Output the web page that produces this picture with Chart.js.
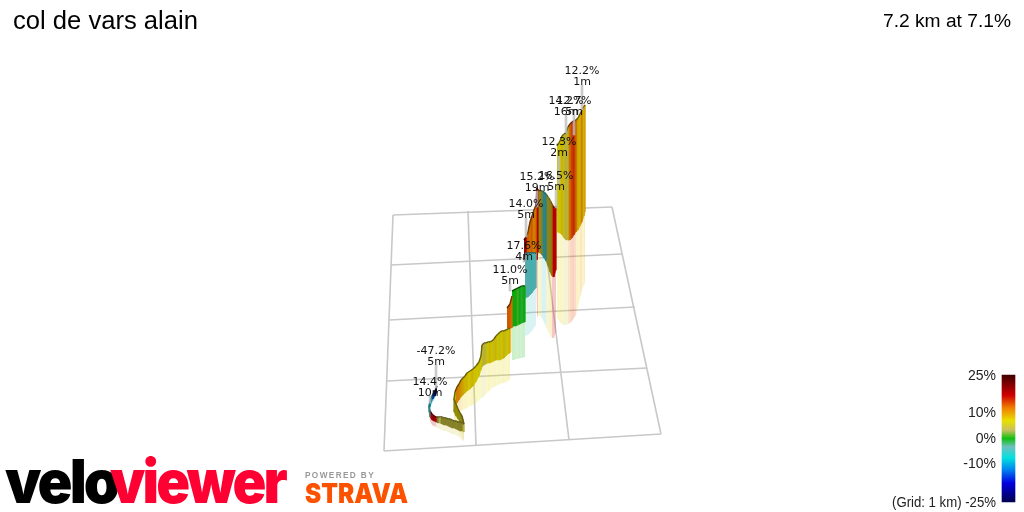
<!DOCTYPE html>
<html>
<head>
<meta charset="utf-8">
<title>col de vars alain</title>
<script src="https://cdn.jsdelivr.net/npm/chart.js"></script>
<style>
	html, body { margin: 0; padding: 0; background: #fff; }
	canvas { display: block; }
</style>
</head>
<body>
<canvas id="chart" width="1024" height="512"></canvas>
<script>
// route samples in picture units, start of the climb first
const routeX = [
	437, 435, 433, 431, 430, 429, 430, 432, 434, 436,
	438, 440, 442, 444, 446, 448, 450, 452, 454, 456, 458, 460, 462,
	464, 462, 460, 458, 456, 454,
	455, 457, 459, 461, 463, 465, 467, 470, 473, 476, 479, 481,
	482, 484, 486, 488, 490, 492, 494, 496, 498, 500, 502, 504, 506, 508, 510,
	507, 510, 512,
	512, 514, 516, 518, 520, 522, 525,
	525, 528, 530, 532, 534, 536,
	524, 526, 528, 530, 532, 534, 536,
	537, 538, 540, 542, 544, 546, 548, 550, 552, 554, 556,
	557, 560, 562, 564, 566, 568, 570, 572, 574, 576, 578, 580, 582, 584, 585
];
const routeTop = [
	386, 391, 394, 398, 402, 406, 411, 414, 416, 417,
	417, 417, 417, 418, 418, 419, 419, 420, 421, 421, 422, 422, 423,
	424, 416, 413, 409, 404, 399,
	392, 387, 384, 380, 378, 376, 373, 371, 369, 366, 362, 356,
	345, 343, 343, 342, 342, 341, 339, 336, 334, 332, 331, 331, 330, 329, 328,
	308, 304, 296,
	291, 290, 289, 288, 287, 286, 286,
	253, 253, 253, 253, 253, 253,
	240, 237, 232, 222, 216, 210, 205,
	188, 190, 191, 191, 192, 194, 197, 200, 204, 208, 206,
	146, 141, 136, 134, 133, 127, 124, 122, 121, 120, 118, 114, 110, 106, 105
];
const routeBase = [
	392, 396, 399, 403, 407, 412, 417, 420, 421, 422,
	423, 423, 424, 425, 425, 426, 427, 428, 428, 429, 430, 431, 431,
	432, 426, 422, 419, 416, 412,
	406, 403, 400, 397, 395, 393, 391, 389, 386, 382, 376, 370,
	367, 365, 364, 363, 363, 362, 361, 360, 360, 360, 359, 358, 356, 354, 353,
	328, 328, 328,
	327, 326, 326, 325, 324, 323, 322,
	298, 297, 295, 293, 290, 288,
	262, 256, 256, 256, 256, 256, 256,
	260, 252, 253, 255, 258, 261, 266, 272, 276, 277, 270,
	232, 233, 235, 238, 240, 240, 240, 238, 235, 232, 230, 226, 222, 216, 212
];
const routeShadow = [
	393, 398, 402, 406, 411, 416, 421, 425, 426, 427,
	428, 429, 430, 431, 431, 432, 433, 434, 434, 435, 436, 438, 440,
	441, 436, 432, 429, 426, 424,
	418, 414, 413, 411, 410, 409, 408, 406, 405, 403, 400, 398,
	398, 396, 394, 392, 390, 388, 387, 386, 385, 384, 383, 383, 382, 381, 380,
	352, 352, 352,
	360, 360, 359, 359, 358, 358, 357,
	336, 335, 333, 331, 328, 325,
	262, 256, 256, 256, 256, 256, 256,
	318, 315, 316, 318, 322, 327, 331, 335, 338, 338, 332,
	318, 322, 324, 325, 325, 324, 323, 321, 318, 315, 307, 298, 290, 285, 282
];
const routeGrade = [
	-25, -14, -9, -8, -5, -4, 18, 20, 17, 3,
	4, 4, 5, 4, 5, 4, 5, 4, 5, 5, 4, 5, 4,
	5, 6, 6, 7, 6, 7,
	11, 11, 10, 9, 8, 8, 7, 8, 7, 7, 7, 6,
	4, 5, 7, 8, 7, 6, 8, 7, 6, 7, 8, 6, 7, 8, 7,
	13, 12, 14,
	0, 0, 1, 0, -1, 0, 0,
	-4, -4, -5, -4, -4, -5,
	19, 13, 12, 13, 11, 12, 17,
	17, 7, 4, -5, -5, 5, 5, 9, 17, 17, 12,
	7, 8, 6, 4, 5, 12, 14, 15, 13, 9, 8, 11, 8, 10, 6
];
// samples where the ribbon jumps instead of carrying on from the previous one
const routeBreaks = [56, 59, 66, 72, 90];

const labelGrades = ["12.2%", "14.2%", "12.7%", "12.3%", "15.2%", "16.5%", "14.0%", "17.6%", "11.0%", "-47.2%", "14.4%"];
const labelTimes = ["1m", "16m", "5m", "2m", "19m", "5m", "5m", "4m", "5m", "5m", "10m"];
const labelX = [582, 566, 574, 559, 537, 556, 526, 524, 510, 436, 430];
const labelY = [70, 100, 100, 141, 176, 175, 203, 245, 269, 350, 381];
const leaderEnd = [110, 133, 135, 185, 207, 208, 237, 262, 291, 388, 403];

const gridLines = [
	[393, 215, 612, 207], [391, 265, 622, 254], [389, 320, 635, 307], [387, 381, 647, 368], [384, 451, 661, 434],
	[393, 215, 384, 451], [468, 211, 476, 445], [541, 209, 569, 440], [612, 207, 661, 434]
];

const legendGrades = [25, 17, 12, 7, 3.3, 0, -3.3, -7.7, -12.4, -17.5, -25];
const legendColors = [
	[64, 0, 0], [208, 0, 0], [240, 128, 0], [232, 224, 0], [200, 192, 96], [16, 192, 16],
	[112, 192, 192], [0, 224, 224], [0, 128, 240], [0, 0, 224], [0, 0, 80]
];
const legendTicks = ["25%", "10%", "0%", "-10%", "(Grid: 1 km) -25%"];
const legendTickY = [380, 417, 443, 468, 507];

function gradeColor(grade) {
	let i = legendGrades.findIndex((g) => grade >= g);
	if (i <= 0) {
		return legendColors[i === 0 ? 0 : legendColors.length - 1];
	}
	const t = (grade - legendGrades[i]) / (legendGrades[i - 1] - legendGrades[i]);
	return legendColors[i].map((c, k) => c + (legendColors[i - 1][k] - c) * t);
}

// faces turned away from the light come out darker, the steep reds stay saturated
function shadeAt(i) {
	if (routeGrade[i] >= 15) {
		return 0.88;
	}
	const dx = routeX[i + 1] - routeX[i];
	const before = routeTop[Math.max(i - 1, 0)];
	const after = routeTop[Math.min(i + 2, routeTop.length - 1)];
	return dx <= 0 || after - before > 0 ? 0.64 : 0.88;
}

function rgb(c, shade, alpha) {
	const v = c.map((n) => Math.round(n * shade));
	return alpha ? `rgba(${v[0]},${v[1]},${v[2]},${alpha})` : `rgb(${v[0]},${v[1]},${v[2]})`;
}

const datasets = [];

gridLines.forEach((g) => {
	datasets.push({
		type: "line",
		data: [{ x: g[0], y: g[1] }, { x: g[2], y: g[3] }],
		borderColor: "#c8c8c8",
		borderWidth: 1.6,
		pointRadius: 0,
		order: 5
	});
});

function quad(i, upper, lower) {
	return [
		{ x: routeX[i], y: upper[i] },
		{ x: routeX[i + 1], y: upper[i + 1] },
		{ x: routeX[i + 1], y: lower[i + 1] },
		{ x: routeX[i], y: lower[i] }
	];
}

// the same index order puts the start of the route in front
for (let i = 0; i < routeX.length - 1; i++) {
	if (routeBreaks.includes(i + 1)) {
		continue;
	}
	const color = gradeColor(routeGrade[i]);
	datasets.push({
		type: "line",
		data: [{ x: routeX[i], y: routeTop[i] }, { x: routeX[i + 1], y: routeTop[i + 1] }],
		borderColor: rgb(color, 0.45),
		borderWidth: 1.4,
		pointRadius: 0,
		order: 3
	});
	datasets.push({
		type: "line",
		data: quad(i, routeTop, routeBase),
		fill: "shape",
		backgroundColor: rgb(color, shadeAt(i)),
		borderColor: rgb(color, shadeAt(i)),
		borderWidth: 0.6,
		pointRadius: 0,
		order: 3
	});
	datasets.push({
		type: "line",
		data: quad(i, routeBase, routeShadow),
		fill: "shape",
		backgroundColor: rgb(color, 1, 0.22),
		borderWidth: 0,
		pointRadius: 0,
		order: 4
	});
}

datasets.push({
	data: labelX.map((x, i) => ({ x: x, y: [labelY[i] + 15, leaderEnd[i]] })),
	backgroundColor: "rgba(190,190,190,0.8)",
	barThickness: 2,
	grouped: false,
	order: 1
});
datasets.push({
	data: [{ x: 1008.5, y: [375, 502] }],
	backgroundColor: (ctx) => {
		if (!ctx.chart.chartArea) {
			return "#000";
		}
		const yScale = ctx.chart.scales.y;
		const top = yScale.getPixelForValue(375);
		const bottom = yScale.getPixelForValue(502);
		const fill = ctx.chart.ctx.createLinearGradient(0, top, 0, bottom);
		legendGrades.forEach((g, i) => {
			fill.addColorStop((25 - g) / 50, rgb(legendColors[i], 1));
		});
		return fill;
	},
	barThickness: 13,
	grouped: false,
	order: 0
});

const textPlugin = {
	id: "chartText",
	afterDatasetsDraw(chart) {
		const { ctx, scales } = chart;
		const px = (x) => scales.x.getPixelForValue(x);
		const py = (y) => scales.y.getPixelForValue(y);
		ctx.save();
		ctx.textBaseline = "alphabetic";

		ctx.fillStyle = "#000";
		ctx.textAlign = "left";
		ctx.font = "25.6px 'Liberation Sans'";
		ctx.fillText("col de vars alain", 13, 29);
		ctx.textAlign = "right";
		ctx.font = "19.2px 'Liberation Sans'";
		ctx.fillText("7.2 km at 7.1%", 1011, 27);

		ctx.font = "14px 'Liberation Sans'";
		ctx.fillStyle = "#222";
		legendTicks.forEach((t, i) => ctx.fillText(t, 996, legendTickY[i], 104));

		ctx.textAlign = "center";
		ctx.font = "11px 'DejaVu Sans'";
		ctx.fillStyle = "#111";
		labelGrades.forEach((t, i) => {
			ctx.fillText(t, px(labelX[i]), py(labelY[i] + 4));
			ctx.fillText(labelTimes[i], px(labelX[i]), py(labelY[i] + 15));
		});

		ctx.textAlign = "left";
		ctx.font = "900 60px Inter";
		ctx.letterSpacing = "-3px";
		ctx.fillStyle = "#000";
		ctx.fillText("velo", 5, 503, 112);
		ctx.fillStyle = "#ff0033";
		ctx.fillText("viewer", 110, 503, 175);
		ctx.letterSpacing = "1.5px";
		ctx.font = "bold 9px 'Liberation Sans'";
		ctx.fillStyle = "#999";
		ctx.fillText("POWERED BY", 305, 478, 70);
		ctx.letterSpacing = "0px";
		ctx.font = "900 27px Inter";
		ctx.fillStyle = "#fc5200";
		ctx.fillText("STRAVA", 305, 503, 103);
		ctx.restore();
	}
};

new Chart(document.getElementById("chart"), {
	type: "bar",
	data: { datasets: datasets },
	plugins: [textPlugin],
	options: {
		responsive: false,
		animation: false,
		events: [],
		layout: { padding: 0 },
		elements: { bar: { borderWidth: 0, borderSkipped: false } },
		plugins: { legend: { display: false }, tooltip: { enabled: false }, title: { display: false } },
		scales: {
			x: { type: "linear", min: 0, max: 1024, display: false, offset: false },
			y: { type: "linear", min: 0, max: 512, reverse: true, display: false }
		}
	}
});
</script>
</body>
</html>
